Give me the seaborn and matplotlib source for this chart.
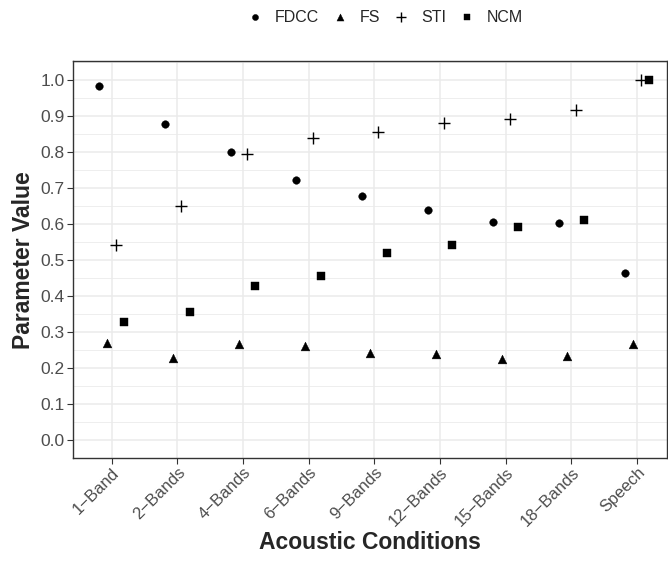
import numpy as np
import pandas as pd
import seaborn as sns
import matplotlib.pyplot as plt
from matplotlib.ticker import MultipleLocator

# datos
condiciones = ["1\u2212Band", "2\u2212Bands", "4\u2212Bands", "6\u2212Bands", "9\u2212Bands",
               "12\u2212Bands", "15\u2212Bands", "18\u2212Bands", "Speech"]
fdcc = [0.984, 0.878, 0.800, 0.723, 0.678, 0.640, 0.606, 0.602, 0.463]
fs = [0.271, 0.227, 0.267, 0.262, 0.241, 0.239, 0.226, 0.235, 0.268]
sti = [0.541, 0.650, 0.794, 0.841, 0.857, 0.882, 0.892, 0.917, 1.000]
ncm = [0.327, 0.355, 0.427, 0.455, 0.519, 0.541, 0.591, 0.613, 1.000]
medidas = ["FDCC", "FS", "STI", "NCM"]

series = {"FDCC": fdcc, "FS": fs, "STI": sti, "NCM": ncm}
df = pd.concat([
    pd.DataFrame({"Condicion": condiciones, "Valor": v, "Medida": m})
    for m, v in series.items()
], ignore_index=True)

# dodge estilo ggplot (ancho 0.5)
ancho = 0.5
offsets = {m: (i - 1.5) * ancho / 4 for i, m in enumerate(medidas)}
df["x"] = df["Condicion"].map({c: i for i, c in enumerate(condiciones)}) + df["Medida"].map(offsets)

sns.set_style("whitegrid")
plt.rcParams["font.family"] = ["Liberation Sans", "DejaVu Sans"]

fig = plt.figure(figsize=(6.68, 5.62), dpi=100)
ax = fig.add_axes([0.109, 0.185, 0.889, 0.706])

marcadores = {"FDCC": "o", "FS": "^", "STI": "P", "NCM": "s"}
tamanos = {"FDCC": 30, "FS": 40, "STI": 70, "NCM": 30}
for m in medidas:
    sub = df[df["Medida"] == m]
    if m == "STI":
        sns.scatterplot(data=sub, x="x", y="Valor", marker="+", s=85, color="black",
                        linewidth=1.0, ax=ax, label=m, zorder=3)
    else:
        sns.scatterplot(data=sub, x="x", y="Valor", marker=marcadores[m], s=tamanos[m],
                        color="black", edgecolor="black", linewidth=0.3, ax=ax, label=m, zorder=3)

ax.set_xlim(-0.59, 8.45)
ax.set_ylim(-0.05, 1.053)
ax.set_xticks(range(len(condiciones)))
ax.set_xticklabels(condiciones, rotation=45, ha="right", rotation_mode="anchor",
                   color="#4D4D4D", fontsize=12)
ax.yaxis.set_minor_locator(MultipleLocator(0.05))
ax.set_yticks(np.arange(0, 1.01, 0.1))
ax.set_yticklabels([f"{v:.1f}" for v in np.arange(0, 1.01, 0.1)], color="#4D4D4D", fontsize=12.5)

ax.grid(which="major", color="#EBEBEB", linewidth=1.1)
ax.grid(which="minor", axis="y", color="#EBEBEB", linewidth=0.6)
ax.tick_params(axis="both", which="major", length=4, width=0.8, color="#333333", direction="out",
               bottom=True, left=True, pad=2)
ax.tick_params(axis="x", which="major", pad=1)
ax.tick_params(axis="y", which="minor", length=0)
for s in ax.spines.values():
    s.set_color("#333333")
    s.set_linewidth(1.0)

ax.set_xlabel("Acoustic Conditions", fontsize=16.5, fontweight="bold", labelpad=1)
ax.set_ylabel("Parameter Value", fontsize=16.5, fontweight="bold", labelpad=4)

handles, labels = ax.get_legend_handles_labels()
ax.legend_.remove()
fig.legend(handles, labels, loc="center", bbox_to_anchor=(385 / 668, 1 - 17 / 562), ncol=4,
           frameon=False, fontsize=11.5, handlelength=1.0, handletextpad=0.75,
           columnspacing=0.8, markerscale=0.8)

fig.savefig("out.png", dpi=100)
